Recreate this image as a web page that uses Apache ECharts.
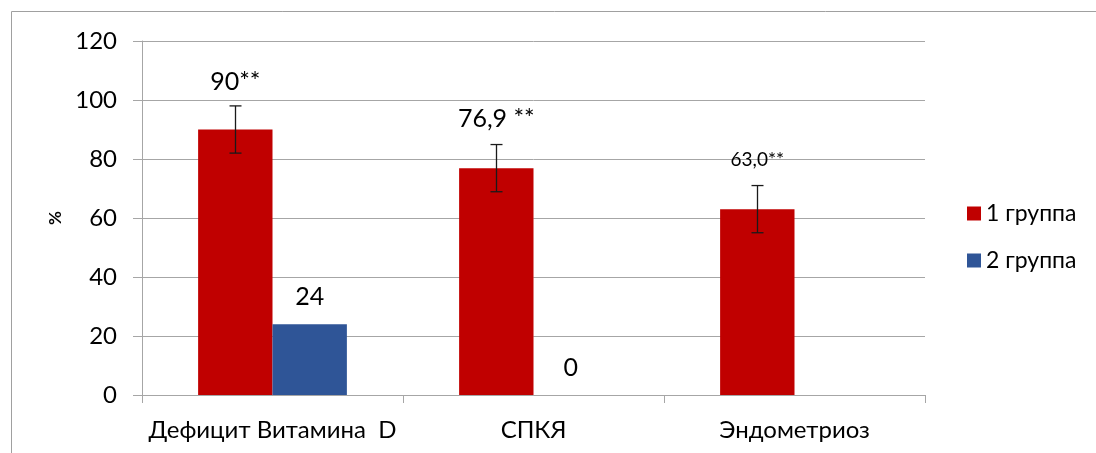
<!DOCTYPE html>
<html>
<head>
<meta charset="utf-8">
<script src="https://cdn.jsdelivr.net/npm/echarts@6/dist/echarts.min.js"></script>
<style>
  html, body { margin: 0; padding: 0; background: #fff; }
  #chart { width: 1096px; height: 453px; }
</style>
</head>
<body>
<div id="chart"></div>
<script>
// Categories and values
const categories = ['Дефицит Витамина  D', 'СПКЯ', 'Эндометриоз'];
const group1 = [90, 76.9, 63.0];
const group2 = [24, 0, null];
const group1Error = [8, 8, 8];
const group1Labels = ['90**', '76,9 **', '63,0**'];
const group2Labels = ['24', '0', ''];
const seriesNames = ['1 группа', '2 группа'];
const yTicks = { min: 0, max: 120, interval: 20 };

// Label lift above each bar, in px
const group1LabelLift = [35, 37, 40];
const group1LabelSize = [25, 25, 19];
const group2LabelLift = [15, 15, 15];

const FONT = 'Lato, "Open Sans", sans-serif';
const RED = '#C00000';
const BLUE = '#2F5597';
const GRID_COLOR = '#a6a6a6';

const chart = echarts.init(document.getElementById('chart'), null, { renderer: 'canvas' });

const g1Data = group1.map((v, i) => ({
  value: v,
  label: {
    show: true,
    position: 'top',
    distance: group1LabelLift[i],
    fontSize: group1LabelSize[i],
    formatter: () => group1Labels[i]
  }
}));
const g2Data = group2.map((v, i) => ({
  value: v,
  label: {
    show: v !== null,
    position: 'top',
    distance: group2LabelLift[i],
    fontSize: 25,
    formatter: () => group2Labels[i]
  }
}));

const errData = group1.map((v, i) => [i, v - group1Error[i], v + group1Error[i]]);

chart.setOption({
  animation: false,
  textStyle: { fontFamily: FONT, color: '#000' },
  graphic: [{
    type: 'rect',
    shape: { x: 11.5, y: 11.5, width: 1300, height: 800 },
    style: { fill: 'none', stroke: '#a0a0a0', lineWidth: 1 },
    silent: true
  }],
  grid: { left: 142, right: 171, top: 41, bottom: 58 },
  legend: {
    orient: 'vertical',
    left: 962,
    top: 197,
    itemWidth: 14,
    itemHeight: 14,
    itemGap: 24,
    icon: 'rect',
    textStyle: { fontFamily: FONT, fontSize: 23, color: '#000' },
    data: seriesNames
  },
  xAxis: {
    type: 'category',
    data: categories,
    axisLine: { show: true, lineStyle: { color: GRID_COLOR, width: 1 } },
    axisTick: { show: true, length: 8, alignWithLabel: false, lineStyle: { color: GRID_COLOR } },
    axisLabel: { fontFamily: FONT, fontSize: 24, color: '#000', margin: 23, interval: 0 },
    splitLine: { show: false }
  },
  yAxis: {
    type: 'value',
    min: yTicks.min,
    max: yTicks.max,
    interval: yTicks.interval,
    name: '%',
    nameLocation: 'middle',
    nameRotate: 90,
    nameGap: 78,
    nameTextStyle: { fontFamily: FONT, fontSize: 17, fontWeight: 'bold', color: '#000' },
    axisLine: { show: true, lineStyle: { color: GRID_COLOR, width: 1 } },
    axisTick: { show: true, length: 9, lineStyle: { color: GRID_COLOR } },
    axisLabel: { fontFamily: FONT, fontSize: 24, color: '#000', margin: 25 },
    splitLine: { show: true, lineStyle: { color: GRID_COLOR, width: 1 } }
  },
  series: [
    {
      name: seriesNames[0],
      type: 'bar',
      data: g1Data,
      itemStyle: { color: RED },
      barGap: '0%',
      barCategoryGap: '43%',
      label: { color: '#000', fontFamily: FONT }
    },
    {
      name: seriesNames[1],
      type: 'bar',
      data: g2Data,
      itemStyle: { color: BLUE },
      label: { color: '#000', fontFamily: FONT }
    },
    {
      type: 'custom',
      name: 'error',
      z: 10,
      data: errData,
      encode: { x: 0, y: [1, 2] },
      renderItem: function (params, api) {
        const idx = api.value(0);
        const lo = api.coord([idx, api.value(1)]);
        const hi = api.coord([idx, api.value(2)]);
        const bandW = api.size([1, 0])[0];
        // group 1 bar sits left of the category centre
        const barW = bandW * (1 - 0.43) / 2;
        const x = Math.round(lo[0] - barW / 2) + 0.5;
        const cap = 6;
        const style = { stroke: '#1a1a1a', lineWidth: 1.3, fill: 'none' };
        return {
          type: 'group',
          children: [
            { type: 'line', shape: { x1: x, y1: hi[1], x2: x, y2: lo[1] }, style },
            { type: 'line', shape: { x1: x - cap, y1: hi[1], x2: x + cap, y2: hi[1] }, style },
            { type: 'line', shape: { x1: x - cap, y1: lo[1], x2: x + cap, y2: lo[1] }, style }
          ]
        };
      }
    }
  ]
});
</script>
</body>
</html>
